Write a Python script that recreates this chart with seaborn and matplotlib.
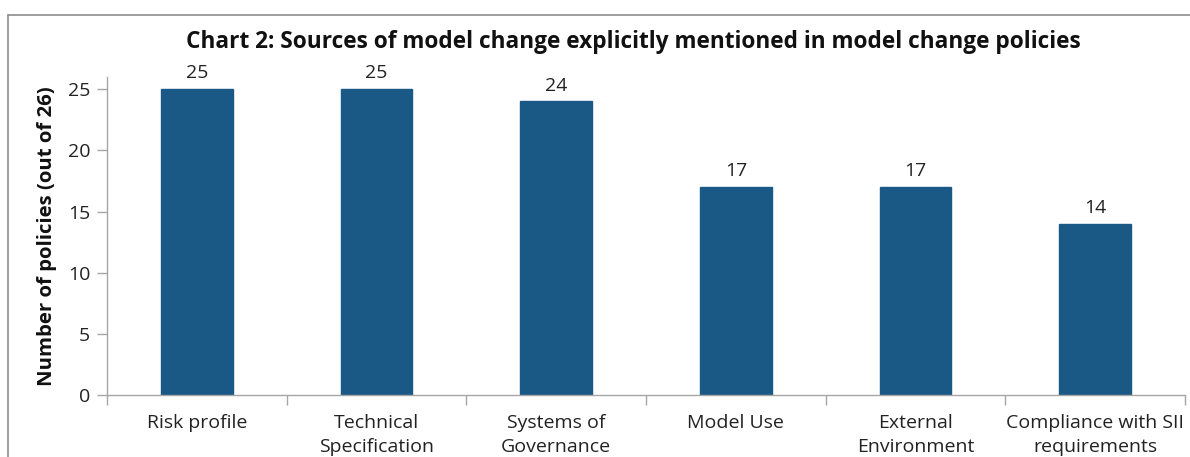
import matplotlib
matplotlib.use("Agg")
import matplotlib.pyplot as plt
import seaborn as sns
import pandas as pd
import numpy as np
from matplotlib.lines import Line2D

categories = ["Risk profile", "Technical\nSpecification", "Systems of\nGovernance",
              "Model Use", "External\nEnvironment", "Compliance with SII\nrequirements"]
values = [25, 25, 24, 17, 17, 14]
yticks = [0, 5, 10, 15, 20, 25]

sns.set_theme(style="white")
plt.rcParams['font.family'] = ['Open Sans', 'DejaVu Sans']

fig = plt.figure(figsize=(11.9, 4.57), dpi=100)
ax = fig.add_axes([107/1190, 1-395/457, (1185-107)/1190, (395-77)/457])

df = pd.DataFrame({"cat": categories, "val": values})
sns.barplot(data=df, x="cat", y="val", color="#1A5886", width=0.4, ax=ax,
            saturation=1, edgecolor="#1A5886")

ax.set_ylim(0, 26)
ax.set_xlim(-0.5, len(categories) - 0.5)
ax.set_yticks(yticks)
ax.tick_params(axis="y", labelsize=14, length=7, color="#A6A6A6", width=1, left=True, pad=5, labelcolor="#222222")
ax.tick_params(axis="x", which="major", length=0, labelsize=14, pad=13.5, labelcolor="#222222")
ax.set_xticks(np.arange(-0.5, len(categories), 1.0), minor=True)
ax.tick_params(axis="x", which="minor", length=7, color="#A6A6A6", width=1, bottom=True)
for lab in ax.get_xticklabels():
    lab.set_linespacing(1.42)

for s in ["top", "right"]:
    ax.spines[s].set_visible(False)
for s in ["left", "bottom"]:
    ax.spines[s].set_color("#A6A6A6")
    ax.spines[s].set_linewidth(1)

ax.set_xlabel("")
ax.set_ylabel("Number of policies (out of 26)", fontsize=14.7, fontweight="bold", labelpad=8, color="#111111")

for c in ax.containers:
    ax.bar_label(c, labels=[str(v) for v in values], padding=5, fontsize=14, color="#222222")

fig.text(633/1190, 1-42/457, "Chart 2: Sources of model change explicitly mentioned in model change policies",
         ha="center", va="center", fontsize=16.3, fontweight="bold", color="#111111")

# outer frame lines (top and left)
fig.add_artist(Line2D([8/1190, 1.0], [1-15/457, 1-15/457], transform=fig.transFigure, color="#8C8C8C", lw=1.2))
fig.add_artist(Line2D([8/1190, 8/1190], [0, 1-15/457], transform=fig.transFigure, color="#8C8C8C", lw=1.2))

fig.savefig("out.png", dpi=100)
